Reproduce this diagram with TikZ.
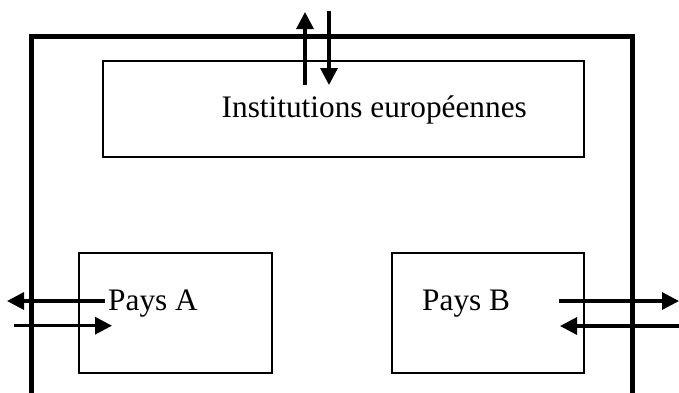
\documentclass[tikz,border=0pt]{standalone}
\usepackage{fontspec}
\setmainfont{Liberation Serif}
\usetikzlibrary{arrows.meta,positioning}

\begin{document}
\begin{tikzpicture}[
  x=1pt,y=-1pt,
  every node/.style={font=\fontsize{31.3}{37}\selectfont},
  cadre/.style={line width=5pt},
  boite/.style={draw,line width=2pt,inner sep=0pt,outer sep=0pt},
  nom/.style={inner sep=0pt,anchor=base west},
  flux/.style={-{Triangle[length=17pt,width=17pt]},line width=3.2pt}
]
\useasboundingbox (0,0) rectangle (679,392);
\draw[cadre] (31.5,400) -- (31.5,36.5) -- (632.5,36.5) -- (632.5,400);

\node[boite,minimum width=481pt,minimum height=96pt] (inst) at (343.8,108.7) {};
\node[boite,minimum width=193.3pt,minimum height=120pt] (paysA) at (175.3,313.3) {};
\node[boite,minimum width=192.3pt,minimum height=120pt,right=120pt of paysA] (paysB) {};

\node[nom] (txtEU) at (221.5,117.5) {Institutions européennes};
\node[nom] (txtA) at (108,310.5) {Pays A};
\node[nom] (txtB) at (422,310.5) {Pays B};

% echanges avec l'exterieur
\coordinate (euUp0) at (305,85);
\coordinate (euUp1) at (305,12);
\coordinate (euDn0) at (329,11);
\coordinate (euDn1) at (329,85);
\coordinate (aOut0) at (105,301);
\coordinate (aOut1) at (7,301);
\coordinate (aIn0) at (14,325.7);
\coordinate (aIn1) at (112,325.7);
\coordinate (bOut0) at (559,301);
\coordinate (bOut1) at (679,301);
\coordinate (bIn0) at (679,326);
\coordinate (bIn1) at (560,326);

\draw[flux] (euUp0) -- (euUp1);
\draw[flux] (euDn0) -- (euDn1);
\draw[flux] (aOut0) -- (aOut1);
\draw[flux] (aIn0) -- (aIn1);
\draw[flux] (bOut0) -- (bOut1);
\draw[flux] (bIn0) -- (bIn1);
\end{tikzpicture}
\end{document}
